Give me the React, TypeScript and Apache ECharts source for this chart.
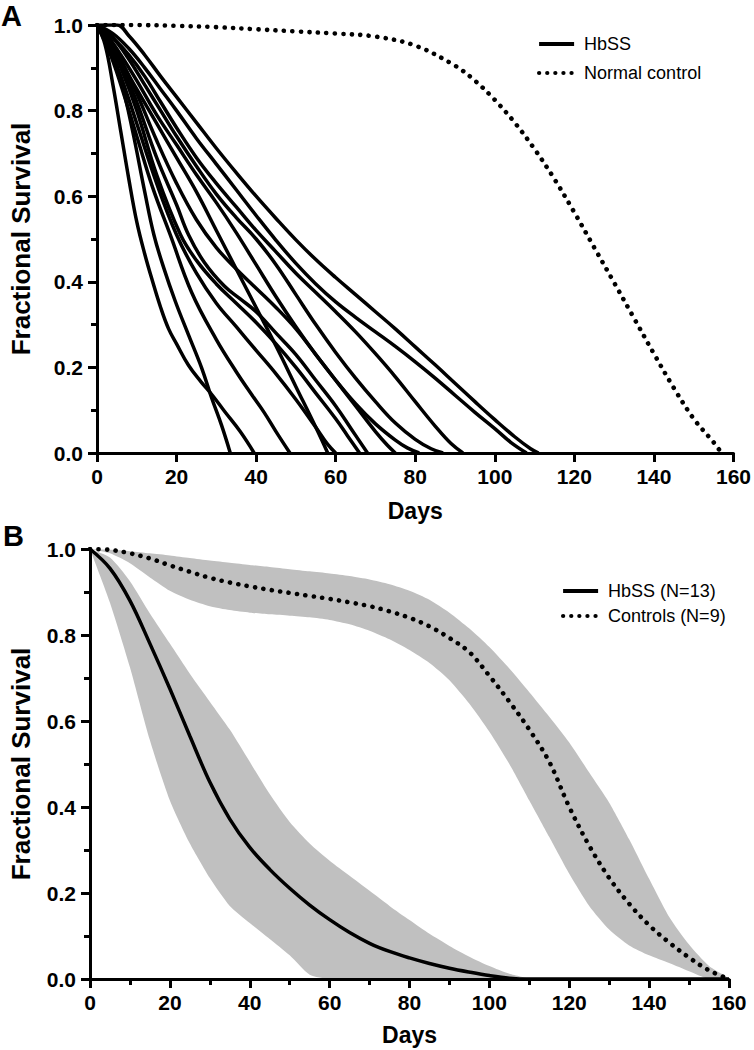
import React, { useEffect, useRef } from "react";
import * as echarts from "echarts";

const FONT = '"Liberation Sans", Arial, Helvetica, sans-serif';

// ---------- Panel A: individual HbSS survival curves [day, fraction] ----------
const hbssA01 = [[0, 1], [2, 0.955], [4, 0.86], [6, 0.75], [8, 0.64], [10, 0.54], [12, 0.465], [14, 0.4], [16, 0.34], [18, 0.29], [20, 0.255], [23, 0.205], [26, 0.168], [29, 0.135], [32, 0.098], [36, 0.05], [39.5, 0]];
const hbssA02 = [[0, 1], [3, 0.95], [6, 0.87], [9, 0.75], [12, 0.61], [14.3, 0.51], [16.8, 0.432], [19.7, 0.354], [23, 0.276], [26.3, 0.199], [28.8, 0.129], [31.3, 0.065], [33.5, 0]];
const hbssA03 = [[0, 1], [3, 0.94], [6, 0.86], [10, 0.74], [14, 0.62], [18.4, 0.51], [23.8, 0.375], [30, 0.265], [35, 0.19], [39, 0.135], [42, 0.095], [45, 0.05], [48.5, 0]];
const hbssA04 = [[0, 1], [3, 0.95], [6, 0.88], [10, 0.77], [15, 0.63], [20, 0.51], [25, 0.42], [30, 0.35], [35, 0.295], [40, 0.24], [45, 0.185], [50, 0.125], [55, 0.06], [58, 0.02], [60, 0]];
const hbssA05 = [[0, 1], [3, 0.96], [6, 0.9], [10, 0.8], [15, 0.65], [21, 0.51], [25, 0.45], [30, 0.395], [35, 0.35], [40, 0.305], [45, 0.255], [50, 0.2], [55, 0.14], [60, 0.08], [63, 0.04], [66, 0]];
const hbssA06 = [[0, 1], [3, 0.96], [6, 0.91], [10, 0.82], [15, 0.69], [20, 0.58], [23, 0.51], [27, 0.445], [32, 0.39], [36, 0.36], [40, 0.33], [45, 0.28], [50, 0.23], [55, 0.17], [60, 0.11], [64, 0.055], [68, 0]];
const hbssA07 = [[0, 1], [3, 0.97], [6, 0.92], [10, 0.84], [15, 0.73], [20, 0.63], [25, 0.545], [30, 0.48], [35, 0.43], [40, 0.385], [45, 0.34], [50, 0.29], [55, 0.23], [60, 0.17], [65, 0.11], [70, 0.05], [73, 0.018], [75, 0]];
const hbssA08 = [[0, 1], [5, 0.93], [10, 0.85], [15, 0.77], [20, 0.69], [25, 0.61], [30, 0.52], [35, 0.43], [40, 0.34], [45, 0.25], [50, 0.155], [55, 0.06], [58, 0]];
const hbssA09 = [[0, 1], [3, 0.97], [6, 0.93], [10, 0.87], [15, 0.79], [20, 0.72], [25, 0.65], [30, 0.585], [35, 0.515], [40, 0.44], [45, 0.365], [50, 0.295], [55, 0.23], [60, 0.17], [65, 0.115], [70, 0.068], [75, 0.03], [78, 0.012], [81, 0]];
const hbssA10 = [[0, 1], [4, 0.97], [8, 0.92], [12, 0.86], [16, 0.8], [20, 0.74], [25, 0.67], [30, 0.605], [35, 0.55], [40, 0.5], [45, 0.44], [50, 0.37], [55, 0.3], [60, 0.235], [65, 0.175], [70, 0.12], [75, 0.07], [80, 0.032], [84, 0.01], [87, 0]];
const hbssA11 = [[0, 1], [4, 0.97], [8, 0.93], [12, 0.88], [16, 0.82], [20, 0.76], [25, 0.69], [30, 0.63], [35, 0.575], [40, 0.52], [45, 0.47], [50, 0.42], [55, 0.375], [60, 0.33], [65, 0.283], [70, 0.232], [75, 0.178], [80, 0.12], [85, 0.063], [89, 0.022], [92, 0]];
const hbssA12 = [[0, 1], [4, 0.98], [8, 0.945], [12, 0.9], [16, 0.85], [20, 0.8], [25, 0.735], [30, 0.675], [35, 0.615], [40, 0.555], [45, 0.497], [50, 0.443], [55, 0.395], [60, 0.353], [65, 0.317], [70, 0.283], [75, 0.249], [80, 0.213], [85, 0.175], [90, 0.135], [95, 0.095], [100, 0.057], [104, 0.025], [108, 0]];
const hbssA13 = [[0, 1], [5, 1], [8, 0.975], [12, 0.93], [16, 0.88], [20, 0.832], [25, 0.772], [30, 0.712], [35, 0.655], [40, 0.6], [45, 0.548], [50, 0.498], [55, 0.452], [60, 0.41], [65, 0.37], [70, 0.33], [75, 0.29], [80, 0.248], [85, 0.206], [90, 0.163], [95, 0.12], [100, 0.078], [105, 0.038], [109, 0.01], [111, 0]];
const hbssCurvesA = [hbssA01, hbssA02, hbssA03, hbssA04, hbssA05, hbssA06, hbssA07, hbssA08, hbssA09, hbssA10, hbssA11, hbssA12, hbssA13];

const normalControlA = [[0, 1], [10, 1], [20, 0.998], [30, 0.995], [40, 0.99], [50, 0.985], [60, 0.98], [70, 0.973], [80, 0.952], [90, 0.905], [95, 0.87], [100, 0.825], [105, 0.772], [110, 0.71], [115, 0.64], [120, 0.562], [125, 0.48], [130, 0.398], [135, 0.315], [140, 0.232], [145, 0.152], [150, 0.08], [155, 0.025], [157, 0]];

// ---------- Panel B: group means with bands ----------
const bDays = [0, 5, 10, 15, 20, 25, 30, 35, 40, 45, 50, 55, 60, 65, 70, 75, 80, 85, 90, 95, 100, 105, 110, 115, 120, 125, 130, 135, 140, 145, 150, 155, 160];
const hbssMeanB = [1, 0.955, 0.88, 0.78, 0.675, 0.565, 0.458, 0.372, 0.306, 0.255, 0.211, 0.172, 0.138, 0.108, 0.083, 0.064, 0.049, 0.036, 0.025, 0.016, 0.008, 0.002, 0, 0, 0, 0, 0, 0, 0, 0, 0, 0, 0];
const hbssUpperB = [1, 0.98, 0.925, 0.85, 0.78, 0.71, 0.645, 0.58, 0.505, 0.43, 0.365, 0.315, 0.275, 0.24, 0.205, 0.17, 0.137, 0.105, 0.077, 0.052, 0.03, 0.012, 0, 0, 0, 0, 0, 0, 0, 0, 0, 0, 0];
const hbssLowerB = [1, 0.875, 0.725, 0.555, 0.415, 0.315, 0.235, 0.17, 0.13, 0.093, 0.055, 0.01, 0, 0, 0, 0, 0, 0, 0, 0, 0, 0, 0, 0, 0, 0, 0, 0, 0, 0, 0, 0, 0];
const controlMeanB = [1, 0.998, 0.99, 0.978, 0.962, 0.947, 0.933, 0.922, 0.913, 0.905, 0.898, 0.891, 0.884, 0.876, 0.867, 0.855, 0.84, 0.82, 0.793, 0.76, 0.705, 0.645, 0.58, 0.505, 0.4, 0.31, 0.235, 0.175, 0.125, 0.085, 0.05, 0.02, 0];
const controlUpperB = [1, 0.998, 0.995, 0.99, 0.985, 0.979, 0.973, 0.968, 0.963, 0.958, 0.953, 0.948, 0.943, 0.937, 0.929, 0.918, 0.903, 0.882, 0.852, 0.815, 0.772, 0.722, 0.667, 0.61, 0.55, 0.48, 0.41, 0.325, 0.233, 0.145, 0.08, 0.03, 0];
const controlLowerB = [1, 0.99, 0.967, 0.934, 0.903, 0.882, 0.867, 0.858, 0.852, 0.848, 0.845, 0.841, 0.835, 0.825, 0.81, 0.79, 0.765, 0.735, 0.695, 0.64, 0.575, 0.5, 0.415, 0.33, 0.245, 0.17, 0.115, 0.078, 0.055, 0.037, 0.018, 0, 0];

const yTickFormat = (v: number) => v.toFixed(1);

function yAxisCfg(gridIndex: number, nameGap: number) {
  return {
    type: "value",
    gridIndex,
    min: 0,
    max: 1,
    interval: 0.2,
    z: 10,
    name: "Fractional Survival",
    nameLocation: "middle",
    nameGap,
    nameRotate: 90,
    nameTextStyle: { fontFamily: FONT, fontWeight: "bold", fontSize: 26, color: "#000" },
    axisLine: { show: true, lineStyle: { color: "#000", width: 3 } },
    axisTick: { show: true, length: 9, lineStyle: { color: "#000", width: 3 } },
    minorTick: { show: true, splitNumber: 2, length: 6, lineStyle: { color: "#000", width: 3 } },
    splitLine: { show: false },
    axisLabel: { fontFamily: FONT, fontWeight: "bold", fontSize: 21, color: "#000", margin: 14, formatter: yTickFormat },
  };
}

function xAxisCfg(gridIndex: number, minor: boolean, nameGap: number) {
  return {
    type: "value",
    gridIndex,
    min: 0,
    max: 160,
    interval: 20,
    z: 10,
    name: "Days",
    nameLocation: "middle",
    nameGap,
    nameTextStyle: { fontFamily: FONT, fontWeight: "bold", fontSize: 23, color: "#000" },
    axisLine: { show: true, onZero: false, lineStyle: { color: "#000", width: 3 } },
    axisTick: { show: true, length: 9, lineStyle: { color: "#000", width: 3 } },
    minorTick: { show: minor, splitNumber: 2, length: 6, lineStyle: { color: "#000", width: 3 } },
    splitLine: { show: false },
    axisLabel: { fontFamily: FONT, fontWeight: "bold", fontSize: 21, color: "#000", margin: 13 },
  };
}

const dotted = { color: "#000", width: 4.6, type: [0.1, 8.4], cap: "round" };
const solid = { color: "#000", width: 3.5 };
const legendSolid = { color: "#000", width: 4 };
const legendDotted = { color: "#000", width: 4.2, type: [0.1, 8], cap: "round" };

function bandSeries(upper: number[], lower: number[]) {
  return {
    type: "custom",
    xAxisIndex: 1,
    yAxisIndex: 1,
    silent: true,
    z: 1,
    data: [[0, 0]],
    renderItem: (_params: any, api: any) => {
      let last = upper.length - 1;
      while (last > 0 && upper[last - 1] === 0 && lower[last - 1] === 0) last--;
      const top: number[][] = [];
      const bottom: number[][] = [];
      for (let i = 0; i <= last; i++) {
        top.push(api.coord([bDays[i], upper[i]]));
        bottom.push(api.coord([bDays[i], lower[i]]));
      }
      bottom.reverse();
      return {
        type: "polygon",
        shape: { points: top.concat(bottom.slice(1)), smooth: 0.22 },
        style: { fill: "#c0c0c0", stroke: "none" },
      };
    },
  };
}

export default function App() {
  const ref = useRef<HTMLDivElement>(null);
  useEffect(() => {
    if (!ref.current) return;
    const chart = echarts.init(ref.current, null, { renderer: "svg" });

    const seriesA = hbssCurvesA.map((curve) => ({
      type: "line",
      name: "HbSS",
      xAxisIndex: 0,
      yAxisIndex: 0,
      data: curve,
      symbol: "none",
      smooth: 0.4,
      color: "#000",
      lineStyle: solid,
      z: 3,
    }));

    const pair = (vals: number[]) => bDays.map((d, i) => [d, vals[i]]);

    const legendCommon = {
      orient: "vertical",
      itemWidth: 35,
      itemHeight: 14,
      selectedMode: false,
      itemStyle: { opacity: 0, borderWidth: 0 },
      textStyle: { fontFamily: FONT, fontSize: 18, color: "#000", padding: [0, 0, 0, 5] },
    };

    const option = {
      animation: false,
      backgroundColor: "#fff",
      color: ["#000"],
      grid: [
        { left: 92, top: 25, width: 645, height: 428 },
        { left: 85, top: 549, width: 644, height: 430 },
      ],
      xAxis: [xAxisCfg(0, false, 46), xAxisCfg(1, true, 44)],
      yAxis: [yAxisCfg(0, 63), yAxisCfg(1, 56)],
      legend: [
        {
          ...legendCommon,
          left: 532,
          top: 30,
          itemGap: 11,
          data: [
            { name: "HbSS", lineStyle: legendSolid },
            { name: "Normal control", lineStyle: legendDotted },
          ],
        },
        {
          ...legendCommon,
          left: 556,
          top: 577,
          itemGap: 7,
          data: [
            { name: "HbSS (N=13)", lineStyle: legendSolid },
            { name: "Controls (N=9)", lineStyle: legendDotted },
          ],
        },
      ],
      graphic: [
        { type: "text", left: 1, top: 1, style: { text: "A", fontFamily: FONT, fontWeight: "bold", fontSize: 29, fill: "#000" } },
        { type: "text", left: 3, top: 521, style: { text: "B", fontFamily: FONT, fontWeight: "bold", fontSize: 29, fill: "#000" } },
      ],
      series: [
        ...seriesA,
        {
          type: "line",
          name: "Normal control",
          xAxisIndex: 0,
          yAxisIndex: 0,
          data: normalControlA,
          symbol: "none",
          smooth: 0.35,
          color: "#000",
          lineStyle: dotted,
          z: 3,
        },
        bandSeries(controlUpperB, controlLowerB),
        bandSeries(hbssUpperB, hbssLowerB),
        {
          type: "line",
          name: "HbSS (N=13)",
          xAxisIndex: 1,
          yAxisIndex: 1,
          data: pair(hbssMeanB),
          symbol: "none",
          smooth: 0.35,
          color: "#000",
          lineStyle: solid,
          z: 3,
        },
        {
          type: "line",
          name: "Controls (N=9)",
          xAxisIndex: 1,
          yAxisIndex: 1,
          data: pair(controlMeanB),
          symbol: "none",
          smooth: 0.35,
          color: "#000",
          lineStyle: dotted,
          z: 3,
        },
      ],
    };
    chart.setOption(option as any);
    return () => chart.dispose();
  }, []);
  return <div ref={ref} style={{ position: "absolute", left: 0, top: 0, width: 754, height: 1050 }} />;
}
